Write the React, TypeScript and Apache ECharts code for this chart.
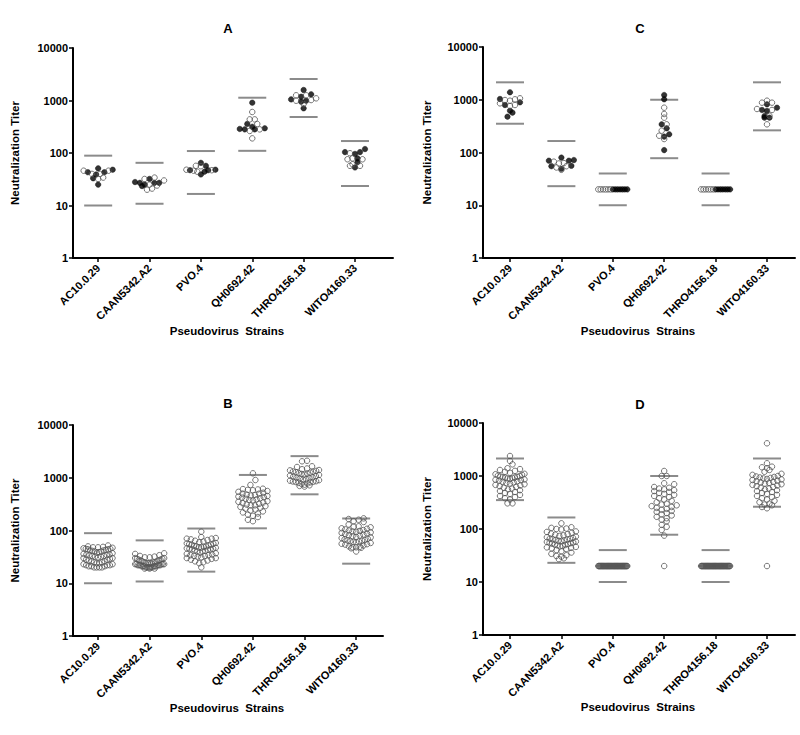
import React, { useEffect, useRef } from 'react';
import * as echarts from 'echarts';

// ---------- data ----------
const categories = ['AC10.0.29', 'CAAN5342.A2', 'PVO.4', 'QH0692.42', 'THRO4156.18', 'WITO4160.33'];
const yTicks = [1, 10, 100, 1000, 10000];

const upperAB = [89, 65, 109, 1130, 2570, 169];
const lowerAB = [10, 10.8, 16.6, 110, 485, 23.5];
const upperCD = [2140, 165, 40, 1000, 40, 2140];
const lowerCD = [351, 23, 10, 78, 10, 263];

// Panel A (filled / open)
const aFilled = [
  [43, 48, 33, 25, 39, 51, 43],
  [32, 23.5, 28, 27, 27, 27, 25],
  [65, 47, 47, 44, 39, 57, 48],
  [908, 357, 296, 282, 282, 287, 316],
  [1585, 1312, 950, 1050, 990, 1180, 710],
  [119, 104, 104, 96, 67, 79, 53],
];
const aOpen = [
  [40, 46, 34, 46, 32, 40],
  [25, 34, 32, 30, 20, 21, 24],
  [57, 44, 56, 46, 47, 48],
  [604, 437, 437, 357, 282, 263, 190],
  [1258, 1100, 1258, 1020, 990, 858],
  [99, 79, 76, 76, 57, 57, 61],
];

// Panel C (filled / open)
const cFilled = [
  [1384, 1033, 893, 795, 620, 569, 477],
  [80, 70, 55, 49, 70, 56, 72],
  [20, 20, 20, 20, 20, 20, 20],
  [1230, 1020, 342, 288, 221, 200, 111],
  [20, 20, 20, 20, 20, 20, 20],
  [707, 640, 612, 819, 457, 457, 490],
];
const cOpen = [
  [960, 855, 760, 795, 1065, 988, 1019],
  [55, 62, 67, 63, 47, 52],
  [20, 20, 20, 20, 20, 20],
  [707, 537, 457, 342, 259, 208, 180],
  [20, 20, 20, 20, 20, 20],
  [880, 880, 960, 640, 668, 498, 342],
];

// Panel B (open)
const bValues = [
  [52, 50, 49, 48, 48, 47, 46, 45, 45, 44, 44, 43, 42, 42, 41, 40, 40, 39, 38, 37, 36, 35, 35, 34, 34, 33, 33, 32, 32, 31, 30, 30, 29, 28, 28, 27, 26, 26, 25, 25, 24, 24, 23, 23, 22, 22, 22, 21, 21, 21, 20, 20, 20, 20],
  [37, 36, 34, 33, 32, 31, 31, 30, 30, 29, 29, 28, 28, 27, 27, 26, 26, 25, 25, 25, 24, 24, 24, 24, 23, 23, 23, 23, 23, 22, 22, 22, 22, 22, 22, 21, 21, 21, 21, 21, 21, 20, 20, 20, 20, 20, 20, 19, 19, 19],
  [95, 75, 72, 70, 70, 68, 66, 64, 62, 60, 58, 57, 56, 55, 54, 53, 52, 51, 50, 50, 49, 48, 48, 47, 46, 45, 45, 44, 44, 43, 42, 41, 40, 40, 38, 37, 36, 35, 34, 34, 33, 33, 32, 31, 30, 30, 29, 28, 27, 26, 25, 24, 20],
  [1214, 906, 730, 620, 610, 600, 590, 580, 560, 540, 520, 500, 500, 480, 470, 460, 450, 440, 430, 420, 410, 400, 390, 380, 370, 360, 350, 340, 330, 320, 310, 300, 300, 290, 280, 270, 260, 250, 240, 230, 220, 210, 200, 190, 180, 160, 150],
  [2100, 2050, 1650, 1600, 1500, 1450, 1400, 1380, 1350, 1320, 1300, 1280, 1250, 1220, 1200, 1180, 1150, 1130, 1100, 1080, 1050, 1020, 1000, 980, 960, 940, 920, 900, 880, 860, 850, 840, 830, 820, 800, 780, 760, 740, 720, 700, 680],
  [170, 165, 160, 150, 145, 130, 120, 118, 115, 110, 108, 105, 102, 100, 98, 96, 94, 92, 90, 88, 86, 84, 82, 80, 78, 76, 74, 72, 70, 68, 66, 65, 64, 63, 62, 61, 60, 58, 56, 55, 54, 52, 50, 49, 48, 48, 47, 46, 40],
];

// Panel D (open)
const dValues = [
  [2385, 1920, 1660, 1400, 1350, 1300, 1250, 1200, 1150, 1100, 1080, 1050, 1020, 1000, 980, 960, 950, 940, 930, 920, 900, 880, 860, 850, 840, 820, 800, 780, 760, 740, 720, 700, 680, 660, 640, 620, 600, 580, 560, 540, 520, 500, 480, 460, 440, 420, 400, 380, 360, 305, 305],
  [128, 108, 105, 102, 100, 98, 90, 88, 85, 82, 80, 78, 76, 74, 72, 70, 68, 66, 65, 64, 63, 62, 61, 60, 59, 58, 57, 56, 55, 54, 53, 52, 51, 50, 49, 48, 47, 46, 45, 44, 43, 42, 40, 38, 36, 34, 32, 31, 30, 28, 27],
  [20, 20, 20, 20, 20, 20, 20, 20, 20, 20, 20, 20, 20, 20, 20, 20, 20, 20, 20, 20, 20, 20, 20, 20, 20, 20, 20, 20, 20, 20, 20, 20, 20, 20, 20, 20, 20, 20, 20, 20, 20, 20, 20, 20, 20, 20, 20, 20, 20, 20, 20, 20, 20, 20, 20],
  [1243, 1000, 1000, 730, 700, 620, 600, 580, 560, 540, 520, 500, 480, 460, 440, 420, 400, 380, 360, 340, 320, 300, 290, 280, 270, 260, 250, 240, 230, 220, 210, 200, 190, 180, 170, 160, 150, 140, 120, 110, 96, 75, 20],
  [20, 20, 20, 20, 20, 20, 20, 20, 20, 20, 20, 20, 20, 20, 20, 20, 20, 20, 20, 20, 20, 20, 20, 20, 20, 20, 20, 20, 20, 20, 20, 20, 20, 20, 20, 20, 20, 20, 20, 20, 20, 20, 20, 20, 20, 20, 20, 20, 20, 20, 20, 20, 20, 20, 20],
  [4140, 1740, 1500, 1460, 1400, 1300, 1200, 1100, 1050, 1000, 980, 960, 940, 920, 900, 880, 860, 840, 820, 800, 780, 760, 740, 720, 700, 680, 660, 640, 620, 600, 580, 560, 540, 520, 500, 480, 460, 440, 420, 400, 380, 360, 340, 320, 300, 290, 280, 260, 246, 20],
];

// ---------- layout helpers ----------
const DOT = 5; // px spacing between dots in a row
const ROW = 5.2; // px height of a row bin
const MAXSPAN = 29; // px max center-to-center span of a row

function layoutStrain(groupVals: number[][], center: number, unitPx: number, decadePx: number) {
  const pts: { v: number; g: number; i: number }[] = [];
  groupVals.forEach((arr, g) => arr.forEach((v, i) => pts.push({ v, g, i })));
  const bins = new Map<number, { v: number; g: number; i: number }[]>();
  pts.forEach((p) => {
    const k = Math.floor((Math.log10(p.v) * decadePx) / ROW);
    if (!bins.has(k)) bins.set(k, []);
    bins.get(k)!.push(p);
  });
  const out: number[][][] = groupVals.map(() => []);
  bins.forEach((list) => {
    list.sort((a, b) => a.v - b.v || a.i - b.i || a.g - b.g);
    const n = list.length;
    const step = n > 1 ? Math.min(DOT, MAXSPAN / (n - 1)) : 0;
    const slots: number[] = [];
    for (let k = 0; k < n; k++) slots.push((k - (n - 1) / 2) * step);
    slots.sort((a, b) => Math.abs(a) - Math.abs(b) || a - b);
    list.forEach((p, idx) => out[p.g].push([center + slots[idx] / unitPx, p.v]));
  });
  return out;
}

const FONT = '"Liberation Sans", Arial, Helvetica, sans-serif';

interface Panel {
  title: string;
  grid: { left: number; top: number; width: number; height: number };
  xMin: number;
  xMax: number;
  groups: number[][][]; // [group][strain][values]
  styles: ('filled' | 'open')[];
  upper: number[];
  lower: number[];
  titlePos: [number, number];
  xNamePos: [number, number];
  yNameGap: number;
}

const panels: Panel[] = [
  {
    title: 'A', grid: { left: 73, top: 48, width: 320, height: 210 }, xMin: -0.49, xMax: 5.74,
    groups: [aFilled, aOpen], styles: ['filled', 'open'], upper: upperAB, lower: lowerAB,
    titlePos: [228, 28], xNamePos: [227, 331], yNameGap: 52,
  },
  {
    title: 'C', grid: { left: 483, top: 47, width: 312, height: 211 }, xMin: -0.525, xMax: 5.545,
    groups: [cFilled, cOpen], styles: ['filled', 'open'], upper: upperCD, lower: lowerCD,
    titlePos: [640, 28], xNamePos: [638, 331], yNameGap: 50,
  },
  {
    title: 'B', grid: { left: 73, top: 425, width: 310, height: 211 }, xMin: -0.485, xMax: 5.52,
    groups: [bValues], styles: ['open'], upper: upperAB, lower: lowerAB,
    titlePos: [228, 403], xNamePos: [227, 708], yNameGap: 52,
  },
  {
    title: 'D', grid: { left: 483, top: 423, width: 312, height: 212 }, xMin: -0.525, xMax: 5.545,
    groups: [dValues], styles: ['open'], upper: upperCD, lower: lowerCD,
    titlePos: [640, 404], xNamePos: [638, 707], yNameGap: 50,
  },
];

function buildOption() {
  const grids: any[] = [];
  const xAxes: any[] = [];
  const yAxes: any[] = [];
  const series: any[] = [];
  const graphics: any[] = [];

  panels.forEach((p, pi) => {
    grids.push({ ...p.grid, containLabel: false });
    const unitPx = p.grid.width / (p.xMax - p.xMin);
    const decadePx = p.grid.height / 4;
    xAxes.push({
      type: 'value', gridIndex: pi, min: p.xMin, max: p.xMax,
      axisLine: { show: true, onZero: false, lineStyle: { color: '#000', width: 2 } },
      axisTick: { show: true, length: 4, lineStyle: { color: '#000', width: 1.5 }, customValues: [0, 1, 2, 3, 4, 5] },
      axisLabel: {
        show: true, rotate: 45, margin: 8, fontSize: 11, fontWeight: 'bold', fontFamily: FONT, color: '#000',
        customValues: [0, 1, 2, 3, 4, 5],
        formatter: (v: number) => categories[Math.round(v)] ?? '',
      },
      splitLine: { show: false },
    });
    yAxes.push({
      type: 'log', logBase: 10, gridIndex: pi, min: yTicks[0], max: yTicks[yTicks.length - 1],
      name: 'Neutralization Titer', nameLocation: 'middle', nameGap: p.yNameGap,
      nameTextStyle: { fontSize: 11.5, fontWeight: 'bold', fontFamily: FONT, color: '#000' },
      axisLine: { show: true, onZero: false, lineStyle: { color: '#000', width: 2 } },
      axisTick: { show: true, length: 4, lineStyle: { color: '#000', width: 1.5 } },
      axisLabel: { fontSize: 11, fontWeight: 'bold', fontFamily: FONT, color: '#000', margin: 5, formatter: (v: number) => String(v) },
      splitLine: { show: false },
      minorTick: { show: false },
    });

    // limit lines
    const limData: number[][] = [];
    categories.forEach((_, i) => {
      limData.push([i, p.upper[i]]);
      limData.push([i, p.lower[i]]);
    });
    series.push({
      type: 'scatter', xAxisIndex: pi, yAxisIndex: pi, data: limData, symbol: 'rect',
      symbolSize: [28, 2], itemStyle: { color: '#6e6e6e' }, silent: true, z: 1,
    });

    // points
    const perGroup: number[][][] = p.groups.map(() => []);
    categories.forEach((_, si) => {
      const res = layoutStrain(p.groups.map((g) => g[si]), si, unitPx, decadePx);
      res.forEach((arr, gi) => perGroup[gi].push(...arr));
    });
    perGroup.forEach((data, gi) => {
      const filled = p.styles[gi] === 'filled';
      series.push({
        type: 'scatter', xAxisIndex: pi, yAxisIndex: pi, data, symbol: 'circle', symbolSize: 5.5,
        itemStyle: filled
          ? { color: '#000', borderColor: '#000', borderWidth: 0.5 }
          : { color: 'rgba(255,255,255,0)', borderColor: '#555', borderWidth: 1 },
        silent: true, z: 2 + gi,
      });
    });

    graphics.push({
      type: 'text', x: p.titlePos[0], y: p.titlePos[1],
      style: { text: p.title, fontSize: 13, fontWeight: 'bold', fontFamily: FONT, fill: '#000', align: 'center', verticalAlign: 'middle' },
    });
    graphics.push({
      type: 'text', x: p.xNamePos[0], y: p.xNamePos[1],
      style: { text: 'Pseudovirus  Strains', fontSize: 11.5, fontWeight: 'bold', fontFamily: FONT, fill: '#000', align: 'center', verticalAlign: 'middle' },
    });
  });

  return {
    animation: false,
    backgroundColor: '#fff',
    grid: grids,
    xAxis: xAxes,
    yAxis: yAxes,
    series,
    graphic: graphics,
  };
}

export default function App() {
  const ref = useRef<HTMLDivElement>(null);
  useEffect(() => {
    if (!ref.current) return;
    const chart = echarts.init(ref.current, undefined, { renderer: 'svg' });
    chart.setOption(buildOption() as any);
    return () => chart.dispose();
  }, []);
  return <div ref={ref} style={{ position: 'absolute', left: 0, top: 0, width: 800, height: 735, background: '#fff' }} />;
}
